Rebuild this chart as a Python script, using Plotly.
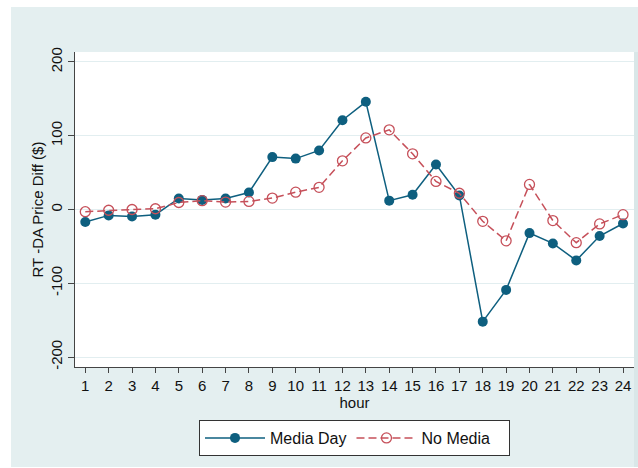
import plotly.graph_objects as go

hours = list(range(1, 25))
media_day = [-17, -8, -9.5, -7, 15, 13, 15, 23, 71, 69, 80, 121, 146, 12, 20, 61,
             19, -152, -109, -32, -46, -69, -36, -19]
no_media = [-3, -1, 0, 1, 9.5, 12, 10, 11, 15.5, 23.5, 30, 66, 97, 108, 75.5, 38,
            22, -16, -42.5, 34, -15, -45, -19.5, -7]
y_ticks = [-200, -100, 0, 100, 200]

FONT = "Liberation Sans, Arial, Helvetica, sans-serif"
BG = "#e4eff0"
C_MEDIA = "#0e5f7f"
C_NO = "#c6505a"

fig = go.Figure()
fig.add_trace(go.Scatter(
    x=hours, y=media_day, name="Media Day", mode="lines+markers",
    line=dict(color=C_MEDIA, width=1.5),
    marker=dict(color=C_MEDIA, size=10, symbol="circle"),
))
fig.add_trace(go.Scatter(
    x=hours, y=no_media, name="No Media   ", mode="lines+markers",
    line=dict(color=C_NO, width=1.5, dash="8px,4px"),
    marker=dict(color=C_NO, size=10, symbol="circle-open", line=dict(width=1.3)),
))

W, H = 638, 468
ml, mr, mt, mb = 75, 4, 52, 101
pw = W - ml - mr
ph = H - mt - mb

def px_x(p):
    return (p - ml) / pw

def px_y(p):
    return (H - mb - p) / ph

shapes = [
    dict(type="rect", xref="paper", yref="paper", layer="below",
         x0=px_x(11), x1=px_x(638), y0=px_y(467), y1=px_y(7),
         fillcolor=BG, line=dict(width=0)),
    dict(type="rect", xref="paper", yref="paper", layer="below",
         x0=px_x(634), x1=px_x(638), y0=px_y(467), y1=px_y(52),
         fillcolor="#d9e7e8", line=dict(width=0)),
    dict(type="rect", xref="paper", yref="paper", layer="below",
         x0=0, x1=1, y0=0, y1=1,
         fillcolor="white", line=dict(width=0)),
]

fig.update_layout(
    width=W, height=H,
    margin=dict(l=ml, r=mr, t=mt, b=mb),
    paper_bgcolor="white",
    plot_bgcolor="rgba(0,0,0,0)",
    font=dict(family=FONT, size=15, color="#111111"),
    shapes=shapes,
    showlegend=True,
    legend=dict(
        orientation="h", x=0.5, xanchor="center", y=px_y(420), yanchor="top",
        bgcolor="white", bordercolor="#333333", borderwidth=1,
        font=dict(family=FONT, size=16, color="#111111"),
        itemwidth=60, tracegroupgap=0,
    ),
    xaxis=dict(
        range=[0.56, 24.47], tickmode="array", tickvals=hours,
        ticktext=[str(h) for h in hours],
        showgrid=False, zeroline=False,
        showline=True, linecolor="#444444", linewidth=1,
        ticks="outside", ticklen=5, tickcolor="#444444",
        tickfont=dict(size=15),
        title=dict(text="hour", font=dict(size=15), standoff=2),
    ),
    yaxis=dict(
        range=[-213.5, 213.5], tickmode="array", tickvals=y_ticks,
        ticktext=[str(v) for v in y_ticks], tickangle=-90,
        showgrid=True, gridcolor="#e2eef0", gridwidth=1.2, zeroline=False,
        showline=True, linecolor="#444444", linewidth=1,
        ticks="outside", ticklen=6, tickcolor="#444444",
        tickfont=dict(size=15),
        title=dict(text="RT -DA Price Diff ($)", font=dict(size=15), standoff=0),
    ),
)

fig.write_html("out.html", config={"displayModeBar": False},
               post_script="document.body.style.margin='0';document.body.style.padding='0';")
